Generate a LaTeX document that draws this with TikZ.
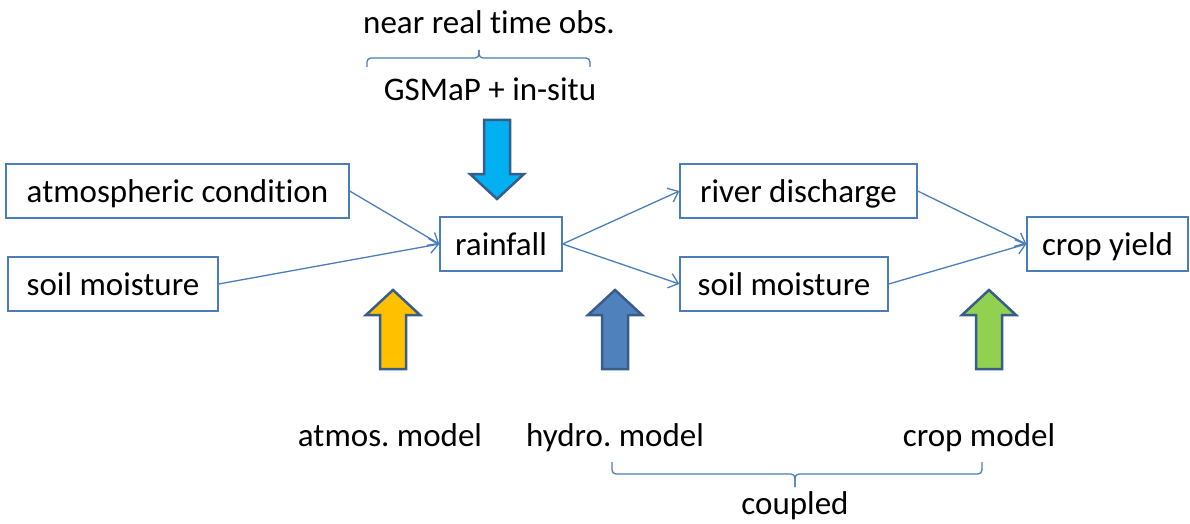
\documentclass[tikz,border=0pt]{standalone}
\usepackage{fontspec}
\setmainfont{Carlito}[RawFeature=-liga]
\frenchspacing
\usetikzlibrary{arrows.meta}
\definecolor{linkblue}{RGB}{74,126,187}
\definecolor{edgeblue}{RGB}{56,93,138}
\definecolor{cyanfill}{RGB}{0,176,240}
\definecolor{amberfill}{RGB}{255,192,0}
\definecolor{steelfill}{RGB}{79,129,189}
\definecolor{limefill}{RGB}{146,208,80}
\begin{document}
\begin{tikzpicture}[x=1pt,y=-1pt,
  txt/.style={font=\fontsize{33}{40}\selectfont},
  box/.style={txt,draw=linkblue,line width=1.3pt,minimum height=54pt,inner sep=0pt,
    text height=25pt,text depth=3pt},
  link/.style={draw=linkblue,line width=1.3pt,
    -{Straight Barb[length=9pt,width=15pt,line width=1.3pt]}},
  plaintext/.style={txt,anchor=base,inner sep=0pt},
  bracepen/.style={draw=linkblue,line width=1.3pt,rounded corners=4pt},
  arrowedge/.style={draw=edgeblue,line width=2.5pt,line join=miter},
  pics/blockup/.style={code={
    \draw[arrowedge,fill=#1] (-13,0) -- (-13,-54) -- (-27,-54) -- (0,-79)
      -- (27,-54) -- (13,-54) -- (13,0) -- cycle;}}
]
\useasboundingbox (0,0) rectangle (1190,524);

% boxes of the chain
\node[box,minimum width=343pt] (atm)   at (177.5,191) {atmospheric condition};
\node[box,minimum width=210pt] (soilL) at (113,284)   {soil moisture};
\node[box,minimum width=122pt] (rain)  at (501,244)   {rainfall};
\node[box,minimum width=237pt] (river) at (798.5,191) {river discharge};
\node[box,minimum width=208pt] (soilR) at (784,284)   {soil moisture};
\node[box,minimum width=161pt] (crop)  at (1107.5,244){crop yield};

% links
\draw[link] (atm.east)   -- (rain.west);
\draw[link] (soilL.east) -- (rain.west);
\draw[link] (rain.east)  -- (river.west);
\draw[link] (rain.east)  -- (soilR.west);
\draw[link] (river.east) -- (crop.west);
\draw[link] (soilR.east) -- (crop.west);

% observation input
\node[plaintext] (obs)  at (489,34)  {near real time obs.};
\node[plaintext] (gsm)  at (490,101) {GSMaP + in-situ};
\coordinate (tl) at (367,67);
\coordinate (tr) at (590,67);
\coordinate (tm) at (479,58);
\coordinate (tt) at (479,50);
\draw[bracepen] (tl) |- (tm) -- (tt);
\draw[bracepen] (tr) |- (tm) -- (tt);
\pic[rotate=180] at (497,120) {blockup=cyanfill};

% model inputs
\pic at (393,369) {blockup=amberfill};
\pic at (615,369) {blockup=steelfill};
\pic at (989,369) {blockup=limefill};

\node[plaintext] (atmos) at (390,446) {atmos. model};
\node[plaintext] (hydro) at (615,446) {hydro. model};
\node[plaintext] (cropm) at (979,446) {crop model};
\node[plaintext] (coup)  at (795,514) {coupled};
\coordinate (bl) at (612,462);
\coordinate (br) at (982,462);
\coordinate (bm) at (795,474);
\coordinate (bt) at (795,487);
\draw[bracepen] (bl) |- (bm) -- (bt);
\draw[bracepen] (br) |- (bm) -- (bt);
\end{tikzpicture}
\end{document}
